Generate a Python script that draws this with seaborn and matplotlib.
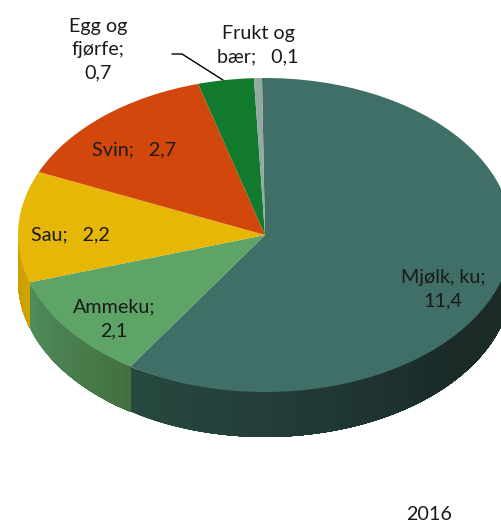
import numpy as np
import matplotlib
matplotlib.use('Agg')
import matplotlib.pyplot as plt
import seaborn as sns

sns.set_theme(style='white')
plt.rcParams['font.family'] = ['Lato', 'DejaVu Sans']

# clockwise from the top
names = ['Mjølk, ku', 'Ammeku', 'Sau', 'Svin', 'Egg og fjørfe', 'Frukt og bær']
values = [11.4, 2.1, 2.2, 2.7, 0.7, 0.1]
top_colors = ['#3f6f66', '#5da466', '#e6b706', '#d2480c', '#117a2c', '#93a8a3']
# wall shading, left to right
wall_colors = [['#27493f', '#223a37', '#1a2b28', '#1a2b28'],
               ['#508c5a', '#4a7f50', '#43703f'],
               ['#c79c00', '#d0a400'],
               ['#a83a0a', '#a83a0a'],
               ['#0d5c20', '#0d5c20'],
               ['#6d7e7a', '#6d7e7a']]

W, H = 501, 525
cx, cy, rx, ry = 265, 235, 247, 157
depth = 45 / ry
start = 90.7


def fig_xy(px, py):
    return px / W, 1 - py / H


fig = plt.figure(figsize=(W / 100, H / 100), dpi=100)
ax = fig.add_axes([0, 0, 1, 1])

# side wall, strips overlap to the right so no seams show
edge = start
for val, cols in zip(values, wall_colors):
    a1 = edge
    a0 = edge - val / sum(values) * 360
    edge = a0
    lo, hi = a0 % 360, (a0 % 360) + (a1 - a0)
    lo2, hi2 = max(lo, 180), min(hi, 360)
    if lo2 >= hi2:
        continue
    n = 60
    th = np.radians(np.linspace(lo2, hi2, n + 1))
    pal = sns.blend_palette(cols, n)
    for i in range(n):
        t = np.linspace(th[i], th[-1], 2 * (n - i) + 2)
        xs = np.r_[np.cos(t), np.cos(t[::-1])]
        ys = np.r_[np.sin(t), np.sin(t[::-1]) - depth]
        ax.fill(xs, ys, color=pal[i], lw=0, zorder=1)

wedges, _ = ax.pie(values, colors=top_colors, startangle=start, counterclock=False,
                   radius=1, center=(0, 0), wedgeprops={'linewidth': 0})
for w in wedges:
    w.set_zorder(2)

ax.set_aspect('auto')
ax.set_xlim(-cx / rx, (W - cx) / rx)
ax.set_ylim((cy - H) / ry, cy / ry)
ax.axis('off')

fs = 14.2
labels = [('Mjølk, ku;\n11,4', 443, 289),
          ('Ammeku;\n2,1', 114, 319),
          ('Sau;   2,2', 70, 235),
          ('Svin;   2,7', 134, 150),
          ('Egg og\nfjørfe;\n0,7', 98, 50),
          ('Frukt og\nbær;   0,1', 258, 45),
          ('2016', 429, 514)]
for txt, px, py in labels:
    x, y = fig_xy(px, py)
    fig.text(x, y, txt, ha='center', va='center', fontsize=fs, color='#1a1a1a',
             linespacing=1.45, zorder=5)

# leader line for Egg og fjørfe
lx, ly = zip(*[fig_xy(172, 54), fig_xy(182, 54), fig_xy(223, 80)])
fig.add_artist(plt.Line2D(lx, ly, color='black', lw=1.0, transform=fig.transFigure))

fig.savefig('out.png', dpi=100)
